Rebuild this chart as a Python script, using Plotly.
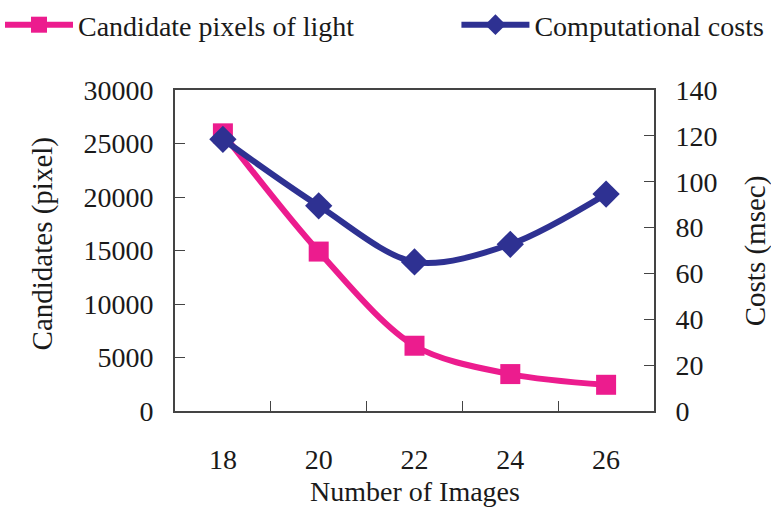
import plotly.graph_objects as go

images = ["18", "20", "22", "24", "26"]
candidates = [25950, 14900, 6100, 3450, 2450]
costs = [118.5, 89.5, 65, 72.7, 94.6]

left_ticks = [0, 5000, 10000, 15000, 20000, 25000, 30000]
left_labels = ["0", "5000", "10000", "15000", "20000", "25000", "30000"]
right_ticks = [0, 20, 40, 60, 80, 100, 120, 140]

PINK = "#EC1C8E"
BLUE = "#2E3192"
FONT = "Liberation Serif"
TXT = "#1a1a1a"

fig = go.Figure()
fig.add_trace(go.Scatter(
    x=images, y=candidates, name="Candidate pixels of light",
    mode="lines+markers", line=dict(color=PINK, width=6, shape="spline", smoothing=0.9),
    marker=dict(symbol="square", size=20, color=PINK), yaxis="y", legend="legend"))
fig.add_trace(go.Scatter(
    x=images, y=costs, name="Computational costs",
    mode="lines+markers", line=dict(color=BLUE, width=6, shape="spline", smoothing=0.9),
    marker=dict(symbol="diamond", size=21, color=BLUE), yaxis="y2", legend="legend2"))

axis_line = "#444444"
fig.update_layout(
    width=771, height=511,
    margin=dict(l=175, r=117, t=90, b=100, autoexpand=False),
    paper_bgcolor="white", plot_bgcolor="white",
    font=dict(family=FONT, size=28, color=TXT),
    xaxis=dict(type="category", tickson="boundaries", ticks="inside", ticklen=10,
               range=[-0.5, 4.5],
               tickcolor=axis_line, showline=True, linecolor=axis_line, linewidth=2,
               mirror=True, showgrid=False, ticklabelstandoff=22, tickangle=0,
               automargin=False),
    yaxis=dict(range=[0, 30000], tickvals=left_ticks, ticktext=left_labels,
               ticks="inside", ticklen=10,
               tickcolor=axis_line, showline=True, linecolor=axis_line, linewidth=2,
               showgrid=False, zeroline=False, ticklabelstandoff=14, automargin=False),
    yaxis2=dict(range=[0, 140], tickvals=right_ticks, ticks="inside", ticklen=10,
                tickcolor=axis_line, showline=True, linecolor=axis_line, linewidth=2,
                showgrid=False, zeroline=False, overlaying="y", side="right",
                ticklabelstandoff=14, automargin=False),
    legend=dict(x=0.0, y=1.0, xref="container", yref="container", xanchor="left",
                yanchor="top", bgcolor="rgba(0,0,0,0)", itemwidth=68,
                font=dict(family=FONT, size=28)),
    legend2=dict(x=0.592, y=1.0, xref="container", yref="container", xanchor="left",
                 yanchor="top", bgcolor="rgba(0,0,0,0)", itemwidth=68,
                 font=dict(family=FONT, size=28)),
    showlegend=True,
    annotations=[
        dict(text="Number of Images", xref="paper", yref="paper", x=0.5, y=-0.252,
             xanchor="center", yanchor="middle", showarrow=False,
             font=dict(family=FONT, size=28, color=TXT)),
        dict(text="Candidates (pixel)", xref="paper", yref="paper", x=-0.277, y=0.52,
             xanchor="center", yanchor="middle", showarrow=False, textangle=-90,
             font=dict(family=FONT, size=29, color=TXT)),
        dict(text="Costs (msec)", xref="paper", yref="paper", x=1.2125, y=0.5,
             xanchor="center", yanchor="middle", showarrow=False, textangle=-90,
             font=dict(family=FONT, size=29, color=TXT)),
    ],
)

fig.write_html("out.html")
